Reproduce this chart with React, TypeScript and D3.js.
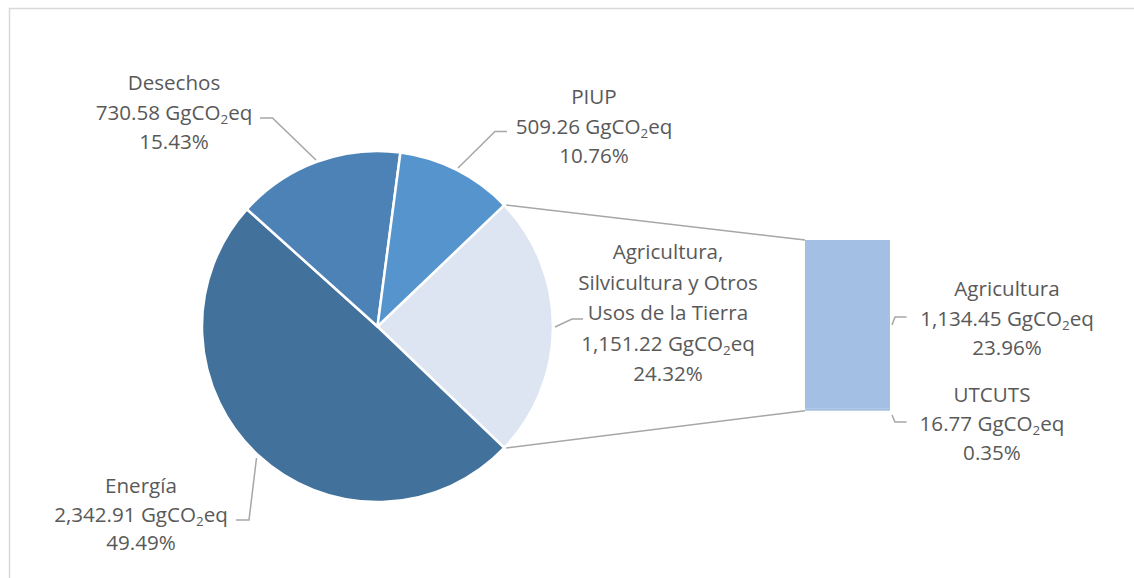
import React from "react";
import * as d3 from "d3";

const pieNames = ["Agricultura", "Energía", "Desechos", "PIUP"];
const pieValues = [1151.22, 2342.91, 730.58, 509.26];
const piePercents = ["24.32%", "49.49%", "15.43%", "10.76%"];
const pieValueLabels = ["1,151.22", "2,342.91", "730.58", "509.26"];
const pieColors = ["#DDE5F3", "#42719C", "#4C82B6", "#5694CD"];

const barNames = ["Agricultura", "UTCUTS"];
const barValues = [1134.45, 16.77];
const barValueLabels = ["1,134.45", "16.77"];
const barPercents = ["23.96%", "0.35%"];
const barColor = "#A3BFE3";

const W = 1134;
const H = 578;
const CX = 377.5;
const CY = 326.5;
const R = 175.5;
const FONT = "'Open Sans', Roboto, sans-serif";
const FS = 20.6;
const TXT = "#595959";
const LINE = "#A6A6A6";

function Label({ x, y, lines, gap = 29.5 }: { x: number; y: number; lines: (string | { v: string })[]; gap?: number }) {
  return (
    <text x={x} y={y} textAnchor="middle" fontFamily={FONT} fontSize={FS} fill={TXT}>
      {lines.map((l, i) =>
        typeof l === "string" ? (
          <tspan key={i} x={x} y={y + i * gap}>{l}</tspan>
        ) : (
          <tspan key={i} x={x} y={y + i * gap}>
            {l.v + " GgCO"}
            <tspan fontSize={FS * 0.65} dy={4}>2</tspan>
            <tspan dy={-4}>eq</tspan>
          </tspan>
        )
      )}
    </text>
  );
}

export default function App() {
  const total = d3.sum(pieValues);
  const agriAngle = (pieValues[0] / total) * 2 * Math.PI;
  const start = Math.PI / 2 - agriAngle / 2;
  const pie = d3.pie<number>().sort(null).startAngle(start).endAngle(start + 2 * Math.PI);
  const arcs = pie(pieValues);
  const arc = d3.arc<d3.PieArcDatum<number>>().innerRadius(0).outerRadius(R);

  const a0 = arcs[0].startAngle;
  const a1 = arcs[0].endAngle;
  const p0 = [CX + R * Math.sin(a0), CY - R * Math.cos(a0)];
  const p1 = [CX + R * Math.sin(a1), CY - R * Math.cos(a1)];

  const barX = 805;
  const barW = 85;
  const barTop = 240;
  const barBottom = 410.7;
  const barTotal = d3.sum(barValues);
  const y = d3.scaleLinear().domain([0, barTotal]).range([barBottom, barTop]);
  const segs = [
    { name: barNames[1], y0: 0, y1: barValues[1] },
    { name: barNames[0], y0: barValues[1], y1: barTotal },
  ];

  return (
    <svg width={W} height={H} style={{ position: "absolute", left: 0, top: 0, background: "#fff" }}>
      <rect x={9.5} y={8.5} width={1130} height={580} fill="#fff" stroke="#D9D9D9" strokeWidth={1.5} />
      <g transform={`translate(${CX},${CY})`}>
        {arcs.map((a, i) => (
          <path key={pieNames[i]} d={arc(a) || ""} fill={pieColors[i]} stroke="#fff" strokeWidth={2.5} strokeLinejoin="round" />
        ))}
      </g>
      <line x1={p0[0] + 2} y1={p0[1]} x2={barX} y2={barTop} stroke={LINE} strokeWidth={1.5} />
      <line x1={p1[0] + 2} y1={p1[1]} x2={barX} y2={barBottom} stroke={LINE} strokeWidth={1.5} />
      {segs.map((s) => (
        <rect key={s.name} x={barX} y={y(s.y1)} width={barW} height={y(s.y0) - y(s.y1)} fill={barColor} />
      ))}

      <polyline points="260,118 272.5,118 316,160" fill="none" stroke={LINE} strokeWidth={1.5} />
      <polyline points="507,131.5 495,131.5 458,168" fill="none" stroke={LINE} strokeWidth={1.5} />
      <polyline points="256.5,458 249,520 236,520" fill="none" stroke={LINE} strokeWidth={1.5} />
      <polyline points="555,327 572,319 583,319" fill="none" stroke={LINE} strokeWidth={1.5} />
      <polyline points="892,325 895,317 906.5,317" fill="none" stroke={LINE} strokeWidth={1.5} />
      <polyline points="892,415 895,422 906.5,422" fill="none" stroke={LINE} strokeWidth={1.5} />

      <Label x={174} y={90} lines={[pieNames[2], { v: pieValueLabels[2] }, piePercents[2]]} />
      <Label x={594} y={104} lines={[pieNames[3], { v: pieValueLabels[3] }, piePercents[3]]} />
      <Label x={141} y={493} lines={[pieNames[1], { v: pieValueLabels[1] }, piePercents[1]]} gap={28.7} />
      <Label
        x={668}
        y={259}
        gap={30.5}
        lines={["Agricultura,", "Silvicultura y Otros", "Usos de la Tierra", { v: pieValueLabels[0] }, piePercents[0]]}
      />
      <Label x={1007} y={296} lines={[barNames[0], { v: barValueLabels[0] }, barPercents[0]]} />
      <Label x={992} y={401.5} gap={29} lines={[barNames[1], { v: barValueLabels[1] }, barPercents[1]]} />
    </svg>
  );
}
